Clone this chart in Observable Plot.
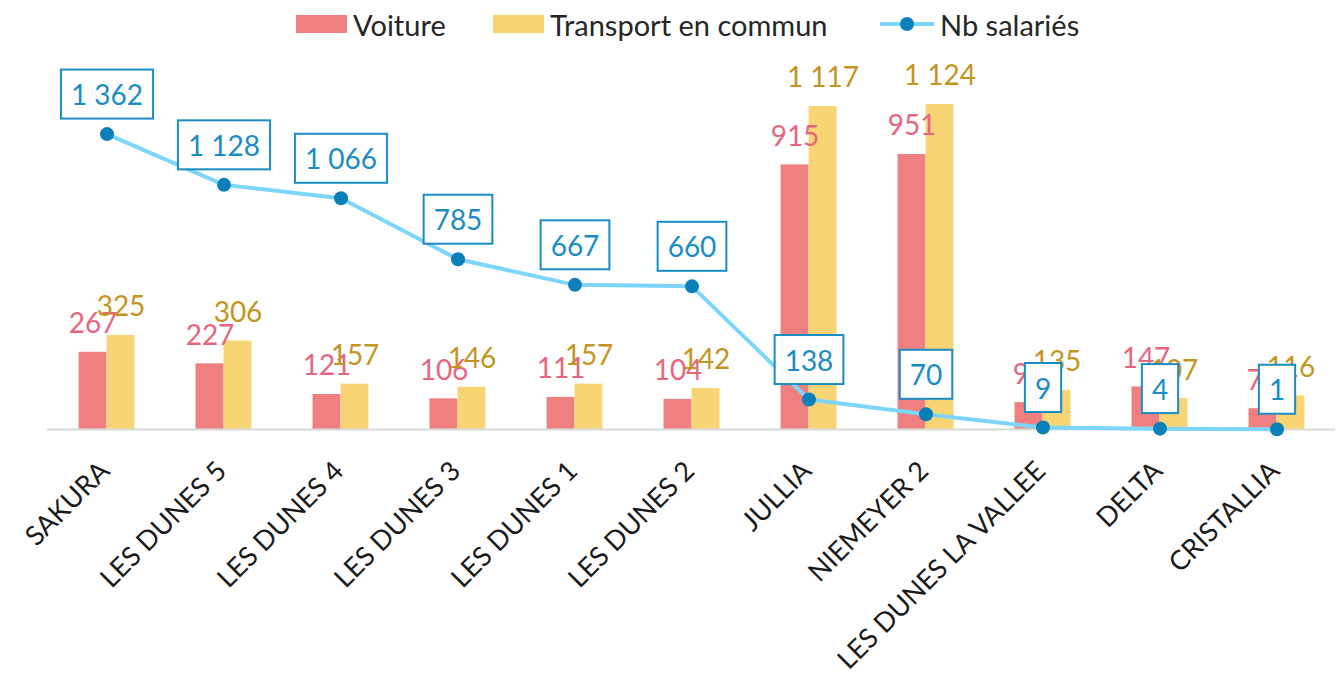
<!DOCTYPE html>
<html><head><meta charset="utf-8">
<script src="https://cdn.jsdelivr.net/npm/d3@7"></script>
<script src="https://cdn.jsdelivr.net/npm/@observablehq/plot@0.6"></script>
<style>
body{margin:0;background:#fff;font-family:Lato,sans-serif;}
#legend{position:relative;height:48px;width:1343px;}
.item{position:absolute;top:0;height:48px;display:flex;align-items:center;font-size:29px;color:#262626;white-space:nowrap;}
.sw{width:51px;height:18px;margin-right:6px;}
.ln{position:relative;width:54px;height:4px;background:#7DD6F9;margin-right:6px;}
.ln::after{content:"";position:absolute;left:20px;top:-5px;width:14px;height:14px;border-radius:50%;background:#0B80B8;}
#chart svg{display:block;}
</style></head><body>
<div id="legend"></div>
<div id="chart"></div>
<script>
const sites = ["SAKURA","LES DUNES 5","LES DUNES 4","LES DUNES 3","LES DUNES 1","LES DUNES 2","JULLIA","NIEMEYER 2","LES DUNES LA VALLEE","DELTA","CRISTALLIA"];
const voiture = [267,227,121,106,111,104,915,951,93,147,72];
const transport = [325,306,157,146,157,142,1117,1124,135,107,116];
const salaries = [1362,1128,1066,785,667,660,138,70,9,4,1];
const seriesNames = ["Voiture","Transport en commun","Nb salariés"];
const yMax = 1200, y2Max = 1600;

const colVoiture = "#F08080", colTransport = "#F8D475";
const colVLabel = "#E5667E", colTLabel = "#C49422";
const colLine = "#7DD6F9", colDot = "#0B80B8", colBox = "#1A8CC4";

// legend
const legend = document.getElementById("legend");
const legItems = [
  {left:296, html:`<div class="sw" style="background:${colVoiture}"></div>${seriesNames[0]}`},
  {left:493, html:`<div class="sw" style="background:${colTransport}"></div>${seriesNames[1]}`},
  {left:880, html:`<div class="ln"></div>${seriesNames[2]}`}
];
for (const it of legItems) {
  const d = document.createElement("div");
  d.className = "item"; d.style.left = it.left + "px"; d.innerHTML = it.html;
  legend.appendChild(d);
}

const data = sites.map((s,i)=>({site:s, voiture:voiture[i], transport:transport[i], nb:salaries[i]}));
const fmt = n => d3.format(",")(n).replace(/,/g, " ");
const k = yMax / y2Max;
const W = 1343, mL = 47, mR = 8;
const band = (W - mL - mR) / sites.length;
const bw = 28;

const chart = Plot.plot({
  width: W, height: 628,
  marginTop: 34, marginBottom: 247, marginLeft: mL, marginRight: mR,
  style: {fontFamily: "Lato, sans-serif", background: "#fff", overflow: "visible"},
  x: {type: "band", domain: sites, padding: 0, axis: null},
  y: {domain: [0, yMax], axis: null},
  marks: [
    Plot.barY(data, {x: "site", y: "voiture", fill: colVoiture, insetLeft: band/2 - bw, insetRight: band/2}),
    Plot.barY(data, {x: "site", y: "transport", fill: colTransport, insetLeft: band/2, insetRight: band/2 - bw}),
    Plot.ruleY([0], {stroke: "#D9D9D9", strokeWidth: 2}),
    Plot.text(data, {x: "site", y: "voiture", text: d => fmt(d.voiture), dx: -bw/2, dy: -28, fill: colVLabel, fontSize: 28, lineAnchor: "middle"}),
    Plot.text(data, {x: "site", y: "transport", text: d => fmt(d.transport), dx: bw/2, dy: -28, fill: colTLabel, fontSize: 28, lineAnchor: "middle"}),
    Plot.text(data, {x: "site", frameAnchor: "bottom", text: "site", rotate: -45, textAnchor: "end", lineAnchor: "middle", dx: -2, dy: 37, fontSize: 27, fill: "#1a1a1a"}),
    Plot.line(data, {x: "site", y: d => d.nb * k, stroke: colLine, strokeWidth: 4}),
    Plot.dot(data, {x: "site", y: d => d.nb * k, r: 7, fill: colDot}),
    Plot.text(data, {x: "site", y: d => d.nb * k, text: d => fmt(d.nb), dy: -38, fill: colBox, fontSize: 28, lineAnchor: "middle"})
  ]
});
document.getElementById("chart").appendChild(chart);

// white boxes behind the salary labels
for (const g of chart.querySelectorAll("g")) {
  if ((g.getAttribute("fill") || "").toLowerCase() !== colBox.toLowerCase()) continue;
  for (const t of Array.from(g.querySelectorAll("text"))) {
    const bb = t.getBBox();
    const cy = bb.y + bb.height / 2;
    const r = document.createElementNS("http://www.w3.org/2000/svg", "rect");
    r.setAttribute("x", bb.x - 10);
    r.setAttribute("y", cy - 24.5);
    r.setAttribute("width", bb.width + 20);
    r.setAttribute("height", 49);
    r.setAttribute("fill", "#fff");
    r.setAttribute("stroke", colBox);
    r.setAttribute("stroke-width", 2);
    const tr = t.getAttribute("transform");
    if (tr) r.setAttribute("transform", tr);
    g.insertBefore(r, t);
  }
}
</script>
</body></html>
